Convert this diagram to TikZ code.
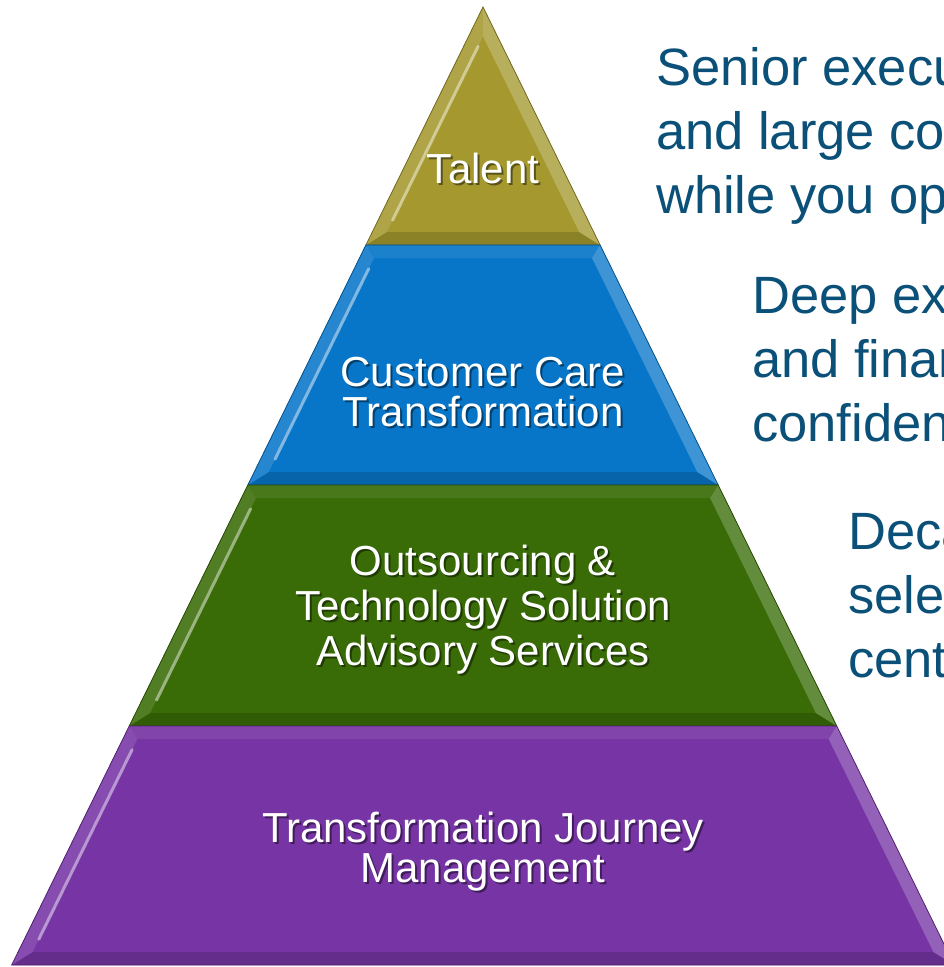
\documentclass[tikz,border=0pt]{standalone}
\usepackage{fontspec}
\setmainfont{Liberation Sans}
\usepackage{tikz}
\usetikzlibrary{calc}

\definecolor{talentc}{RGB}{164,152,46}
\definecolor{carec}{RGB}{8,118,200}
\definecolor{outsrc}{RGB}{57,108,7}
\definecolor{journeyc}{RGB}{118,52,164}
\definecolor{notec}{RGB}{10,80,120}

\begin{document}
\begin{tikzpicture}[x=1pt,y=-1pt,
    lbl/.style={text=white,align=center,anchor=base,inner sep=0pt,font=\fontsize{42}{40}\selectfont},
    lblshadow/.style={lbl,text=black,opacity=0.45,xshift=2pt,yshift=-2pt},
    note/.style={text=notec,align=left,anchor=base west,inner sep=0pt,font=\fontsize{52.5}{64}\selectfont}]
  \useasboundingbox (0,0) rectangle (944,967);
  \clip (0,0) rectangle (944,967);
  % pyramid layers: top y / bottom y / colour, bevel 13
  \foreach \ya/\yb/\col in {7/245/talentc,245/485/carec,485/726/outsrc,726/965/journeyc}{
    \pgfmathsetmacro{\xa}{0.492*(\ya-7)}
    \pgfmathsetmacro{\xb}{0.492*(\yb-7)}
    \pgfmathsetmacro{\yi}{max(\ya+13,7+13*1.115/0.492)}
    \pgfmathsetmacro{\yj}{\yb-13}
    \pgfmathsetmacro{\xi}{max(0.492*(\yi-7)-13*1.115,0)}
    \pgfmathsetmacro{\xj}{0.492*(\yj-7)-13*1.115}
    \fill[\col] (483-\xa,\ya) -- (483+\xa,\ya) -- (483+\xb,\yb) -- (483-\xb,\yb) -- cycle;
    % bevel strips
    \fill[\col!92!white] (483-\xa,\ya) -- (483+\xa,\ya) -- (483+\xi,\yi) -- (483-\xi,\yi) -- cycle;
    \fill[\col!85!black] (483-\xb,\yb) -- (483+\xb,\yb) -- (483+\xj,\yj) -- (483-\xj,\yj) -- cycle;
    \fill[\col!88!white] (483-\xa,\ya) -- (483-\xb,\yb) -- (483-\xj,\yj) -- (483-\xi,\yi) -- cycle;
    \fill[\col!78!white] (483+\xa,\ya) -- (483+\xb,\yb) -- (483+\xj,\yj) -- (483+\xi,\yi) -- cycle;
    \draw[\col!40!white,line width=3pt,line cap=round,opacity=0.8]
      ($(483-\xj,\yj)!0.06!(483-\xi,\yi)$) -- ($(483-\xj,\yj)!0.95!(483-\xi,\yi)$);
    \draw[\col!70!black,line width=0.8pt] (483-\xa,\ya) -- (483+\xa,\ya) -- (483+\xb,\yb) -- (483-\xb,\yb) -- cycle;
  }

  % layer labels (base = last line)
  \node[lblshadow] (talent-s) at (483,183) {Talent};
  \node[lbl] (talent) at (483,183) {Talent};
  \node[lblshadow] (care-s) at (483,426) {Customer Care\\Transformation};
  \node[lbl] (care) at (483,426) {Customer Care\\Transformation};
  \node[lblshadow,font=\fontsize{42}{45}\selectfont] (outsrc-s) at (483,665) {Outsourcing \&\\Technology Solution\\Advisory Services};
  \node[lbl,font=\fontsize{42}{45}\selectfont] (outsrc) at (483,665) {Outsourcing \&\\Technology Solution\\Advisory Services};
  \node[lblshadow] (journey-s) at (483,882) {Transformation Journey\\Management};
  \node[lbl] (journey) at (483,882) {Transformation Journey\\Management};

  % side notes
  \node[note] (note1) at (656,213) {Senior execu\\and large co\\while you op};
  \node[note] (note2) at (752,441) {Deep ex\\and finan\\confiden};
  \node[note] (note3) at (848,677) {Deca\\sele\\cent};
\end{tikzpicture}
\end{document}
